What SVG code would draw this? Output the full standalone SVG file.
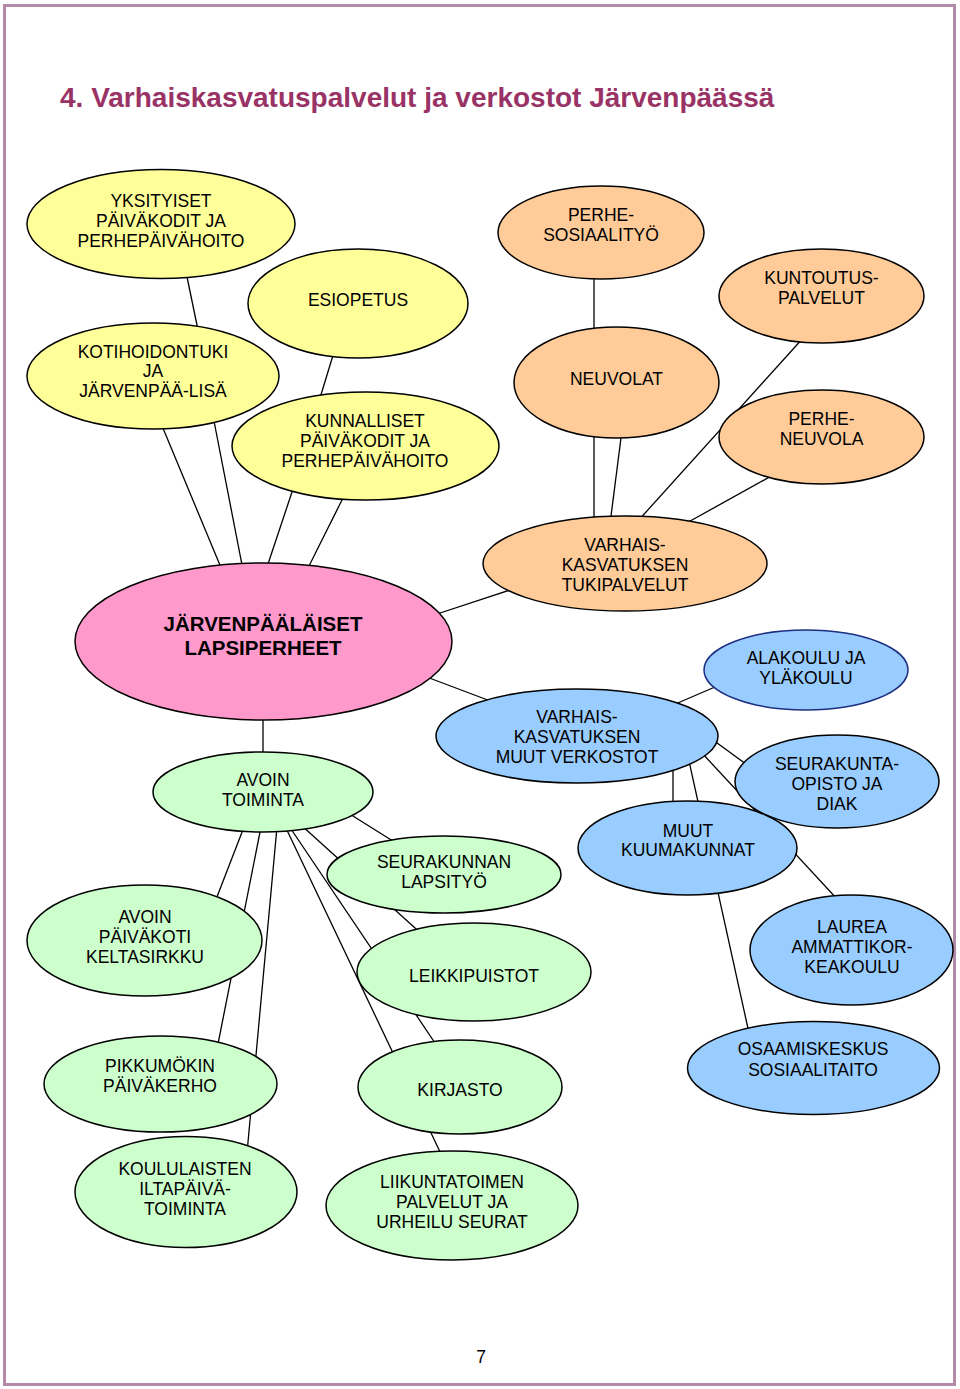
<svg xmlns="http://www.w3.org/2000/svg" width="960" height="1389" viewBox="0 0 960 1389">
<style>
.node ellipse{stroke:#000;stroke-width:1.5}
.y ellipse{fill:#ffff99}
.o ellipse{fill:#ffcc99}
.p ellipse{fill:#ff99cc}
.b ellipse{fill:#99ccff}
.g ellipse{fill:#ccffcc}
.node text{font-family:"Liberation Sans",Arial,sans-serif;font-size:17.5px;text-anchor:middle;fill:#000}
.p text{font-weight:bold;font-size:20.5px}
#connectors line{stroke:#000;stroke-width:1.3}
.title{font-family:"Liberation Sans",Arial,sans-serif;font-weight:bold;font-size:28px;fill:#993366}
</style>
<rect x="0" y="0" width="960" height="1389" fill="#fff"/>
<rect x="4.5" y="5.5" width="950" height="1379" fill="none" stroke="#b48aa8" stroke-width="3"/>
<text class="title" x="60" y="107">4. Varhaiskasvatuspalvelut ja verkostot Järvenpäässä</text>

<g id="connectors">
<line x1="186" y1="272" x2="198" y2="330"/>
<line x1="334" y1="352" x2="320" y2="398"/>
<line x1="160" y1="421" x2="222" y2="570"/>
<line x1="214" y1="421" x2="243" y2="570"/>
<line x1="294" y1="486" x2="266" y2="570"/>
<line x1="346" y1="492" x2="307" y2="570"/>
<line x1="594" y1="272" x2="594" y2="334"/>
<line x1="594" y1="430" x2="594" y2="524"/>
<line x1="622" y1="430" x2="610" y2="524"/>
<line x1="804" y1="337" x2="637" y2="522"/>
<line x1="775" y1="474" x2="683" y2="525"/>
<line x1="434" y1="615" x2="516" y2="588"/>
<line x1="424" y1="676" x2="493" y2="702"/>
<line x1="263" y1="715" x2="263" y2="758"/>
<line x1="673" y1="705" x2="722" y2="684"/>
<line x1="713" y1="740" x2="750" y2="767"/>
<line x1="702" y1="753" x2="838" y2="900"/>
<line x1="673" y1="765" x2="673" y2="808"/>
<line x1="689" y1="761" x2="749" y2="1033"/>
<line x1="345" y1="811" x2="396" y2="843"/>
<line x1="301" y1="825" x2="425" y2="937"/>
<line x1="289" y1="826" x2="437" y2="1046"/>
<line x1="285" y1="826" x2="442" y2="1156"/>
<line x1="244" y1="827" x2="215" y2="902"/>
<line x1="261" y1="827" x2="217" y2="1049"/>
<line x1="277" y1="827" x2="247" y2="1153"/>
</g>

<g id="n-yksityiset" class="node y"><ellipse cx="161" cy="224" rx="134" ry="54.5"/><text x="161" y="207">YKSITYISET</text><text x="161" y="227">PÄIVÄKODIT JA</text><text x="161" y="247">PERHEPÄIVÄHOITO</text></g>
<g id="n-esiopetus" class="node y"><ellipse cx="358" cy="303.5" rx="110" ry="54.5"/><text x="358" y="306">ESIOPETUS</text></g>
<g id="n-kotihoidontuki" class="node y"><ellipse cx="153" cy="376" rx="126" ry="53"/><text x="153" y="358">KOTIHOIDONTUKI</text><text x="153" y="377">JA</text><text x="153" y="397">JÄRVENPÄÄ-LISÄ</text></g>
<g id="n-kunnalliset" class="node y"><ellipse cx="365.5" cy="446" rx="133.5" ry="54"/><text x="365" y="427">KUNNALLISET</text><text x="365" y="447">PÄIVÄKODIT JA</text><text x="365" y="467">PERHEPÄIVÄHOITO</text></g>
<g id="n-perhesosiaalityo" class="node o"><ellipse cx="601" cy="232.5" rx="103" ry="46.5"/><text x="601" y="221">PERHE-</text><text x="601" y="241">SOSIAALITYÖ</text></g>
<g id="n-kuntoutus" class="node o"><ellipse cx="821.5" cy="296" rx="102.5" ry="47"/><text x="821.5" y="284">KUNTOUTUS-</text><text x="821.5" y="304">PALVELUT</text></g>
<g id="n-neuvolat" class="node o"><ellipse cx="616.5" cy="382.5" rx="102.5" ry="55.5"/><text x="616.5" y="385">NEUVOLAT</text></g>
<g id="n-perheneuvola" class="node o"><ellipse cx="821.5" cy="437" rx="102.5" ry="47"/><text x="821.5" y="425">PERHE-</text><text x="821.5" y="445">NEUVOLA</text></g>
<g id="n-tukipalvelut" class="node o"><ellipse cx="625" cy="563.5" rx="142" ry="47.5"/><text x="625" y="551">VARHAIS-</text><text x="625" y="571">KASVATUKSEN</text><text x="625" y="591">TUKIPALVELUT</text></g>
<g id="n-lapsiperheet" class="node p"><ellipse cx="263.5" cy="641.5" rx="188.5" ry="78.5"/><text x="263" y="631">JÄRVENPÄÄLÄISET</text><text x="263" y="655">LAPSIPERHEET</text></g>
<g id="n-alakoulu" class="node b"><ellipse cx="806" cy="670" rx="102" ry="40" style="stroke:#1c2f80"/><text x="806" y="664">ALAKOULU JA</text><text x="806" y="684">YLÄKOULU</text></g>
<g id="n-muutverkostot" class="node b"><ellipse cx="577" cy="736" rx="141" ry="47"/><text x="577" y="723">VARHAIS-</text><text x="577" y="743">KASVATUKSEN</text><text x="577" y="763">MUUT VERKOSTOT</text></g>
<g id="n-seurakuntaopisto" class="node b"><ellipse cx="837" cy="781.5" rx="102" ry="46.5"/><text x="837" y="770">SEURAKUNTA-</text><text x="837" y="790">OPISTO JA</text><text x="837" y="810">DIAK</text></g>
<g id="n-avointoiminta" class="node g"><ellipse cx="263" cy="792" rx="110" ry="40"/><text x="263" y="786">AVOIN</text><text x="263" y="806">TOIMINTA</text></g>
<g id="n-kuumakunnat" class="node b"><ellipse cx="687.5" cy="848" rx="109.5" ry="47"/><text x="688" y="837">MUUT</text><text x="688" y="856">KUUMAKUNNAT</text></g>
<g id="n-seurakunnan" class="node g"><ellipse cx="444" cy="874.5" rx="117" ry="38.5"/><text x="444" y="868">SEURAKUNNAN</text><text x="444" y="888">LAPSITYÖ</text></g>
<g id="n-avoinpaivakoti" class="node g"><ellipse cx="144.5" cy="940.5" rx="117.5" ry="55.5"/><text x="145" y="923">AVOIN</text><text x="145" y="943">PÄIVÄKOTI</text><text x="145" y="963">KELTASIRKKU</text></g>
<g id="n-laurea" class="node b"><ellipse cx="851.5" cy="950" rx="101.5" ry="55"/><text x="852" y="933">LAUREA</text><text x="852" y="953">AMMATTIKOR-</text><text x="852" y="973">KEAKOULU</text></g>
<g id="n-leikkipuistot" class="node g"><ellipse cx="474" cy="972" rx="117" ry="49"/><text x="474" y="982">LEIKKIPUISTOT</text></g>
<g id="n-osaamiskeskus" class="node b"><ellipse cx="813.5" cy="1068" rx="126" ry="46.5"/><text x="813" y="1055">OSAAMISKESKUS</text><text x="813" y="1076">SOSIAALITAITO</text></g>
<g id="n-pikkumokin" class="node g"><ellipse cx="160.5" cy="1084" rx="116.5" ry="48"/><text x="160" y="1072">PIKKUMÖKIN</text><text x="160" y="1092">PÄIVÄKERHO</text></g>
<g id="n-kirjasto" class="node g"><ellipse cx="460" cy="1087" rx="102" ry="47"/><text x="460" y="1096">KIRJASTO</text></g>
<g id="n-koululaisten" class="node g"><ellipse cx="186" cy="1192" rx="111" ry="55.5"/><text x="185" y="1175">KOULULAISTEN</text><text x="185" y="1195">ILTAPÄIVÄ-</text><text x="185" y="1215">TOIMINTA</text></g>
<g id="n-liikunta" class="node g"><ellipse cx="452" cy="1205.5" rx="126" ry="54.5"/><text x="452" y="1188">LIIKUNTATOIMEN</text><text x="452" y="1208">PALVELUT JA</text><text x="452" y="1228">URHEILU SEURAT</text></g>

<text x="481" y="1363" style="font-family:'Liberation Sans',Arial,sans-serif;font-size:17.5px;text-anchor:middle">7</text>
</svg>
